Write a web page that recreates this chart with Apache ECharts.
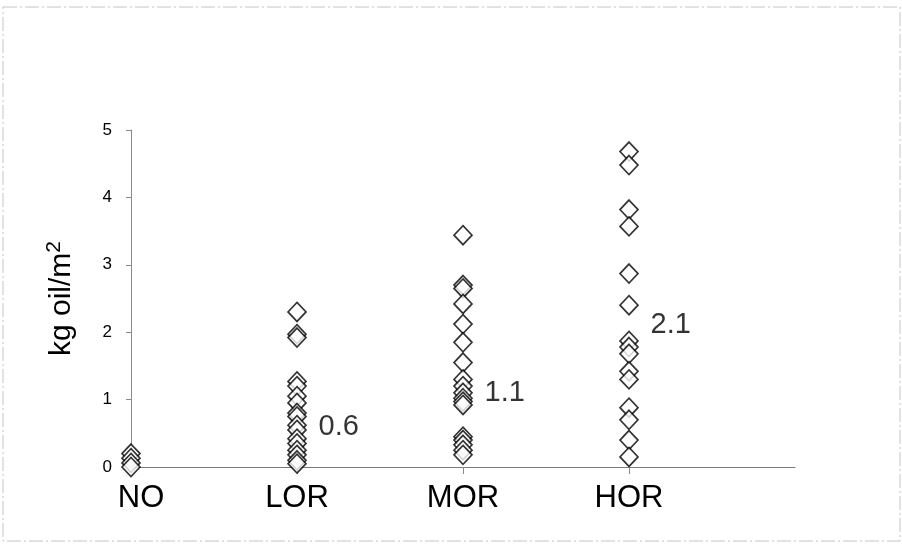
<!DOCTYPE html>
<html lang="en">
<head>
    <meta charset="UTF-8">
    <title>kg oil/m2</title>
    <style>
        html, body { margin: 0; padding: 0; background: #fff; }
    </style>
</head>
<body>
<div id="chart" style="width: 902px; height: 546px"></div>
<script src="https://cdn.jsdelivr.net/npm/echarts@6/dist/echarts.min.js"></script>
<script>
    // categories on the x axis (last one empty, only there to stretch the axis)
    var categories = ['NO', 'LOR', 'MOR', 'HOR', ''];

    // kg oil per m2
    var valsNO = [0.2, 0.13, 0.06, 0.0];
    var valsLOR = [2.3, 1.97, 1.92, 1.27, 1.2, 1.05, 0.95, 0.8, 0.75, 0.62, 0.55, 0.42, 0.35, 0.25, 0.18, 0.1, 0.05];
    var valsMOR = [3.44, 2.7, 2.65, 2.42, 2.12, 1.85, 1.55, 1.3, 1.2, 1.1, 1.02, 0.97, 0.92, 0.45, 0.4, 0.33, 0.25, 0.18];
    var valsHOR = [4.68, 4.48, 3.82, 3.57, 2.87, 2.4, 1.87, 1.78, 1.68, 1.42, 1.3, 0.88, 0.7, 0.4, 0.15];

    // mean labels written next to each group
    var meanCats = ['LOR', 'MOR', 'HOR'];
    var meanVals = [0.6, 1.1, 2.1];

    var yTicks = [0, 1, 2, 3, 4, 5];

    var groups = [valsNO, valsLOR, valsMOR, valsHOR];
    var points = [];
    for (var g = 0; g < groups.length; g++) {
        for (var k = 0; k < groups[g].length; k++) {
            points.push([categories[g], groups[g][k]]);
        }
    }
    var means = [];
    for (var m = 0; m < meanCats.length; m++) {
        means.push([meanCats[m], meanVals[m]]);
    }

    var font = '"Liberation Sans", Arial, sans-serif';
    var chart = echarts.init(document.getElementById('chart'));

    var option = {
        backgroundColor: '#fff',
        animation: false,
        textStyle: { fontFamily: font },
        graphic: [{
            type: 'rect',
            shape: { x: 3, y: 7, width: 897, height: 534 },
            style: { fill: 'none', stroke: '#c4c4c4', lineWidth: 1, lineDash: [14, 3, 2, 3] },
            silent: true
        }],
        grid: { left: 131, right: 107, top: 130, bottom: 79 },
        xAxis: {
            type: 'category',
            data: categories,
            boundaryGap: false,
            axisLine: { lineStyle: { color: '#7a7a7a', width: 1 } },
            axisTick: {
                show: true,
                length: 7,
                lineStyle: { color: '#888' },
                interval: function (i) { return i > 0 && i < 4; }
            },
            axisLabel: {
                interval: 0,
                margin: 16,
                color: '#000',
                fontSize: 31,
                fontFamily: font,
                formatter: function (v) { return v === 'NO' ? '{no|NO}' : v; },
                rich: { no: { fontSize: 31, color: '#000', fontFamily: font, padding: [0, 0, 0, 20] } }
            },
            splitLine: { show: false }
        },
        yAxis: {
            type: 'value',
            min: yTicks[0],
            max: yTicks[yTicks.length - 1],
            interval: 1,
            name: '{t|kg oil/m}{s|2}',
            nameLocation: 'middle',
            nameRotate: 90,
            nameGap: 52,
            nameTextStyle: {
                rich: {
                    t: { fontSize: 30, color: '#000', fontFamily: font },
                    s: { fontSize: 21, color: '#000', fontFamily: font, verticalAlign: 'top', padding: [0, 0, 14, 0] }
                }
            },
            axisLine: { show: true, lineStyle: { color: '#8a8a8a', width: 1 } },
            axisTick: { show: true, length: 5, lineStyle: { color: '#8a8a8a' } },
            axisLabel: { color: '#000', fontSize: 17, margin: 19, fontFamily: font },
            splitLine: { show: false }
        },
        series: [{
            type: 'scatter',
            data: points,
            symbol: 'diamond',
            symbolSize: [18, 19],
            itemStyle: { color: '#fff', borderColor: '#000', borderWidth: 1.7 },
            z: 3
        }, {
            type: 'scatter',
            data: means,
            symbolSize: 1,
            itemStyle: { color: 'rgba(0,0,0,0)' },
            label: {
                show: true,
                position: 'right',
                distance: 21,
                color: '#000',
                fontSize: 29,
                fontFamily: font,
                formatter: function (p) { return p.value[1].toFixed(1); }
            },
            z: 4
        }]
    };
    chart.setOption(option);
</script>
</body>
</html>
